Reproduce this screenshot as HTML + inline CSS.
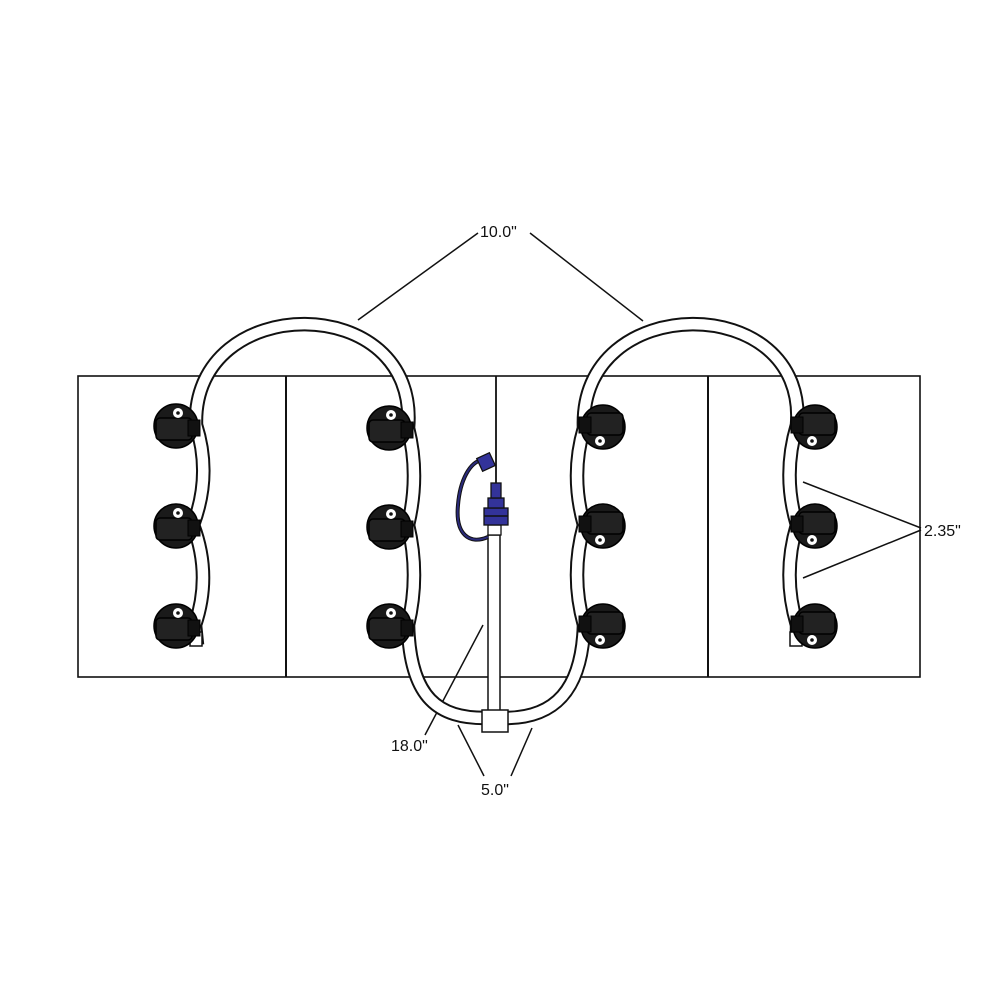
<!DOCTYPE html>
<html><head><meta charset="utf-8"><style>
html,body{margin:0;padding:0;background:#fff;}
svg{display:block;}
text{font-family:"Liberation Sans",sans-serif;font-size:16px;fill:#111;}
</style></head><body>
<svg width="1000" height="1000" viewBox="0 0 1000 1000" xmlns="http://www.w3.org/2000/svg">
<defs>
<g id="clipL">
 <circle cx="0" cy="0" r="22" fill="#1a1a1a" stroke="#000" stroke-width="1.5"/>
 <rect x="-20" y="-8" width="36" height="22" rx="4" fill="#222" stroke="#000" stroke-width="1.5"/>
 <rect x="12" y="-6" width="12" height="16" fill="#111" stroke="#000"/>
 <circle cx="2" cy="-13" r="5" fill="#fff"/>
 <circle cx="2" cy="-13" r="1.8" fill="#111"/>
</g>
<g id="clipR">
 <circle cx="0" cy="0" r="22" fill="#1a1a1a" stroke="#000" stroke-width="1.5"/>
 <rect x="-16" y="-14" width="36" height="22" rx="4" fill="#222" stroke="#000" stroke-width="1.5"/>
 <rect x="-24" y="-10" width="12" height="16" fill="#111" stroke="#000"/>
 <circle cx="-3" cy="14" r="5" fill="#fff"/>
 <circle cx="-3" cy="14" r="1.8" fill="#111"/>
</g>
</defs>
<rect x="78" y="376" width="842" height="301" fill="#fff" stroke="#111" stroke-width="1.6"/>
<line x1="286" y1="376" x2="286" y2="677" stroke="#111" stroke-width="2"/>
<line x1="496" y1="376" x2="496" y2="677" stroke="#111" stroke-width="1.6"/>
<line x1="708" y1="376" x2="708" y2="677" stroke="#111" stroke-width="2"/>

<g stroke="#111" stroke-width="1.5" fill="none">
<line x1="478" y1="233" x2="358" y2="320"/>
<line x1="530" y1="233" x2="643" y2="321"/>
<line x1="921" y1="528" x2="803" y2="482"/>
<line x1="921" y1="530" x2="803" y2="578"/>
<line x1="483" y1="625" x2="425" y2="735"/>
<line x1="484" y1="776" x2="458" y2="725"/>
<line x1="511" y1="776" x2="532" y2="728"/>
</g>

<path d="M197,645 L195,625 Q212,575 193,525 Q212,475 196,425 C192,290 420,290 408,428 Q420,475 408,525 Q420,575 408,625 C410,700 440,718 485,718 L505,718 C555,718 582,690 584,625 Q570,575 584,525 Q570,475 584,428 C578,290 808,290 797,425 Q782,475 797,525 Q782,575 797,625 L797,645" fill="none" stroke="#111" stroke-width="14.5"/>
<path d="M197,645 L195,625 Q212,575 193,525 Q212,475 196,425 C192,290 420,290 408,428 Q420,475 408,525 Q420,575 408,625 C410,700 440,718 485,718 L505,718 C555,718 582,690 584,625 Q570,575 584,525 Q570,475 584,428 C578,290 808,290 797,425 Q782,475 797,525 Q782,575 797,625 L797,645" fill="none" stroke="#fff" stroke-width="10.5"/>
<rect x="190" y="632" width="12" height="14" fill="#fff" stroke="#111" stroke-width="1.5"/>
<rect x="790" y="632" width="12" height="14" fill="#fff" stroke="#111" stroke-width="1.5"/>

<rect x="488" y="535" width="12" height="178" fill="#fff" stroke="#111" stroke-width="1.5"/>
<rect x="482" y="710" width="26" height="22" fill="#fff" stroke="#111" stroke-width="1.5"/>
<rect x="488" y="525" width="13" height="10" fill="#fff" stroke="#111" stroke-width="1.3"/>
<rect x="484" y="508" width="24" height="17" fill="#33339a" stroke="#111" stroke-width="1.3"/>
<line x1="484" y1="516" x2="508" y2="516" stroke="#111" stroke-width="1.5"/>
<rect x="488" y="498" width="16" height="10" fill="#33339a" stroke="#111" stroke-width="1.3"/>
<rect x="491" y="483" width="10" height="15" fill="#33339a" stroke="#111" stroke-width="1.3"/>
<line x1="496" y1="376" x2="496" y2="483" stroke="#111" stroke-width="1.5"/>
<path d="M488,537 C470,545 455,535 458,505 C460,480 470,462 482,460" fill="none" stroke="#111" stroke-width="4"/>
<path d="M488,537 C470,545 455,535 458,505 C460,480 470,462 482,460" fill="none" stroke="#2a2a7a" stroke-width="2"/>
<rect x="479" y="455" width="14" height="14" fill="#33339a" stroke="#111" stroke-width="1.3" transform="rotate(-25 486 462)"/>

<use href="#clipL" x="176" y="426"/>
<use href="#clipL" x="176" y="526"/>
<use href="#clipL" x="176" y="626"/>
<use href="#clipL" x="389" y="428"/>
<use href="#clipL" x="389" y="527"/>
<use href="#clipL" x="389" y="626"/>
<use href="#clipR" x="603" y="427"/>
<use href="#clipR" x="603" y="526"/>
<use href="#clipR" x="603" y="626"/>
<use href="#clipR" x="815" y="427"/>
<use href="#clipR" x="815" y="526"/>
<use href="#clipR" x="815" y="626"/>

<text x="480" y="237">10.0"</text>
<text x="924" y="536">2.35"</text>
<text x="391" y="751">18.0"</text>
<text x="481" y="795">5.0"</text>
</svg>
</body></html>
